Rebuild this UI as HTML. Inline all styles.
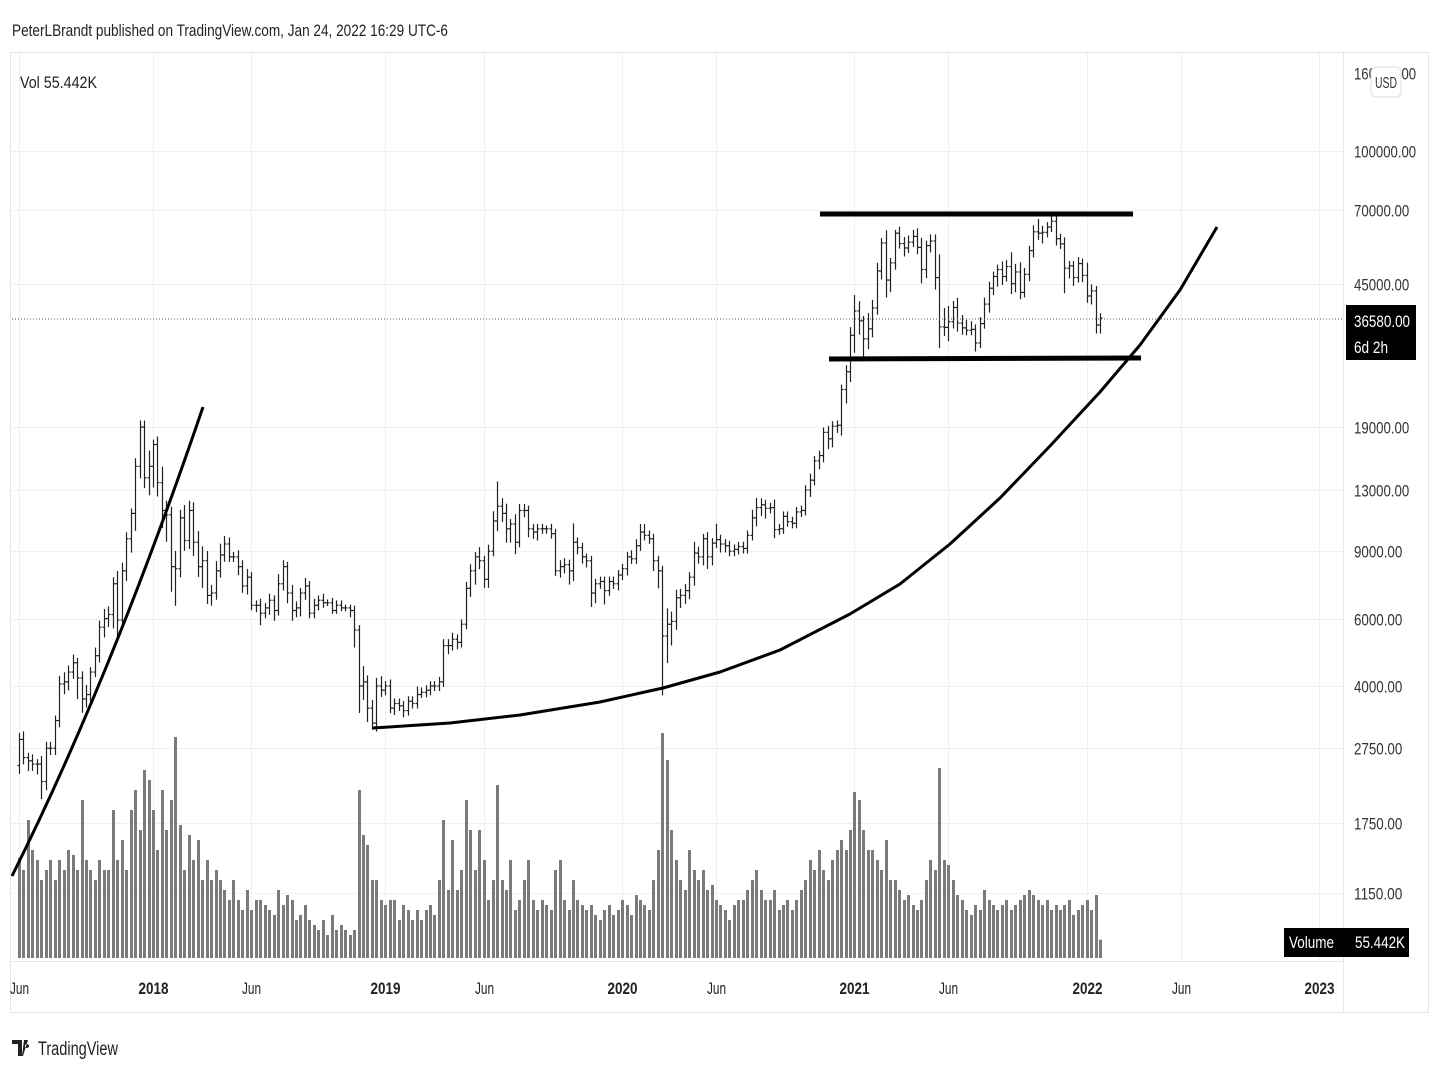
<!DOCTYPE html>
<html><head><meta charset="utf-8">
<style>
body{margin:0;background:#fff;width:1440px;height:1080px;overflow:hidden;font-family:"Liberation Sans",sans-serif;}
svg{position:absolute;left:0;top:0}
</style></head>
<body>
<svg id="chart" width="1440" height="1080">
<text x="12" y="36" font-size="17" fill="#222" textLength="436" lengthAdjust="spacingAndGlyphs">PeterLBrandt published on TradingView.com, Jan 24, 2022 16:29 UTC-6</text>
<rect x="10.5" y="52.5" width="1418" height="960" fill="none" stroke="#e6e6e6"/>
<g id="grid"></g>
<line x1="1343.5" y1="52" x2="1343.5" y2="1012" stroke="#e6e6e6"/>
<line x1="10" y1="961.5" x2="1343" y2="961.5" stroke="#e6e6e6"/>
<g id="vol"></g>
<g id="bars"></g>
<line x1="12" y1="319" x2="1343" y2="319" stroke="#555" stroke-dasharray="1 2"/>
<g id="drawings">
<path d="M12 876 Q110 680 203 407" fill="none" stroke="#000" stroke-width="3"/>
<polyline points="373,728 450,723 520,715 600,702 663,688 720,672 780,650 850,614 900,584 950,544 1000,498 1050,446 1100,392 1140,345 1180,290 1217,227" fill="none" stroke="#000" stroke-width="3" stroke-linejoin="round"/>
<line x1="820" y1="214" x2="1133" y2="214" stroke="#000" stroke-width="5"/>
<line x1="829" y1="359" x2="1141" y2="358" stroke="#000" stroke-width="5"/>
</g>
<g id="yaxis"></g>
<g id="xaxis"></g>
<text x="20" y="88" font-size="17" fill="#222" textLength="77" lengthAdjust="spacingAndGlyphs">Vol  55.442K</text>
<rect x="1371" y="67" width="30" height="30" rx="5" fill="#fff" stroke="#ddd"/>
<text x="1375" y="88" font-size="16" fill="#333" textLength="22" lengthAdjust="spacingAndGlyphs">USD</text>
<rect x="1346" y="305" width="70" height="55" fill="#000"/>
<text x="1354" y="327" font-size="17" fill="#fff" textLength="56" lengthAdjust="spacingAndGlyphs">36580.00</text>
<text x="1354" y="353" font-size="17" fill="#fff" textLength="34" lengthAdjust="spacingAndGlyphs">6d 2h</text>
<rect x="1284" y="928" width="125" height="29" fill="#000"/>
<text x="1289" y="948" font-size="17" fill="#fff" textLength="45" lengthAdjust="spacingAndGlyphs">Volume</text>
<text x="1355" y="948" font-size="17" fill="#fff" textLength="50" lengthAdjust="spacingAndGlyphs">55.442K</text>
<g>
<path d="M12 1040h10v16h-4v-12h-6z M24 1040h4l-5 16h-1z M27 1044a2 2 0 1 0 0.1 0z" fill="#222"/>
<text x="38" y="1055" font-size="19" fill="#222" textLength="80" lengthAdjust="spacingAndGlyphs">TradingView</text>
</g>
</svg>
<script>
const firstOpen = 2480;
const closes = [
2900,2600,2550,2500,2500,2250,2750,2750,3250,4050,4100,4350,4600,4200,3700,3800,4350,4800,5700,6000,6150,7400,5950,8000,9700,11300,15000,19000,14000,15000,
17100,13600,11500,11200,8200,8100,11000,9600,11500,9500,8200,8500,6900,7000,8000,8800,9400,8700,8700,8200,7300,7700,6500,6500,6200,6400,6700,6300,7400,8200,7000,6300,6400,7000,7300,6200,6500,6700,6600,6600,6300,6500,6400,6400,6300,5600,4000,4100,3500,3200,4000,3900,4000,
3500,3600,3550,3450,3650,3600,3800,3850,3900,4000,4000,4100,5100,5100,5300,5200,5800,7200,8000,8700,8500,7600,9000,10800,11800,11300,10300,10600,9500,11500,11500,10300,10100,10300,10300,10300,10000,8000,8200,8300,8000,9500,9200,8700,8500,7000,7400,7500,7100,7500,7400,7800,
8100,8700,8600,9300,10100,9900,9700,8500,8000,5400,5800,5900,6800,6900,7100,7700,8900,8700,9700,8700,9450,9650,9400,9300,9000,9100,9250,9150,9900,11000,11700,11900,11650,11700,10250,10300,11100,10750,10650,11400,11500,13000,13800,15500,16000,18400,17700,19100,19200,23800,26500,33000,
38200,36000,32300,34300,38900,48600,57500,46000,51000,61000,57300,55800,57800,59800,56000,49000,56600,58200,46700,34700,34600,35800,39000,35500,34500,34000,34200,31500,35400,39800,43800,47000,49000,47000,49900,45000,48300,42700,47600,54900,61500,61000,61300,63300,65500,59000,57200,49400,50100,46700,50800,47300,
41800,43100,35100,36580];
const wickUp = [
4,5,3,4,3,5,4,4,3,5,6,4,5,3,4,6,3,5,4,6,5,4,8,5,4,3,5,4,4,10,
3,5,10,6,5,10,5,8,6,5,7,9,6,5,6,7,5,4,3,4,4,5,3,3,4,3,4,3,6,4,3,5,4,3,5,3,4,3,4,2,3,3,3,2,2,3,3,10,4,5,5,6,3,
4,3,3,3,3,3,5,3,3,3,3,3,4,4,4,3,3,4,4,3,6,3,4,6,16,5,6,3,6,4,4,3,3,3,3,2,3,3,4,4,3,12,3,3,2,3,3,3,3,3,3,3,
3,3,4,4,5,5,3,3,3,3,10,6,5,4,4,3,7,4,3,4,3,10,3,3,3,3,3,3,3,5,6,4,3,3,5,3,3,3,3,3,3,3,4,3,3,3,4,3,3,3,4,5,
10,6,3,10,5,5,3,8,3,2,4,4,4,4,5,6,3,4,4,15,12,10,4,6,5,5,5,3,4,4,4,3,3,5,4,9,5,6,4,3,4,8,4,3,5,3,3,4,3,3,4,3,
8,4,3,3];
const wickDn = [
5,4,6,4,6,10,5,4,4,4,6,5,4,12,8,5,4,3,4,6,5,8,10,4,6,8,10,7,6,10,
12,8,10,15,14,20,5,6,5,8,6,12,5,6,4,4,4,3,3,5,4,5,3,4,7,3,4,6,3,4,6,6,4,5,4,3,3,3,3,2,2,2,2,2,4,10,15,8,8,4,5,4,3,
3,4,3,4,3,3,3,2,3,3,3,3,3,5,3,4,3,3,5,8,5,5,5,3,6,5,8,8,7,3,4,5,4,5,3,3,3,3,4,4,8,6,4,4,4,8,6,3,8,3,3,4,
3,4,3,3,3,3,3,6,10,30,15,12,5,6,5,5,5,4,5,7,5,3,5,4,3,3,3,3,3,3,5,5,6,3,5,3,3,3,3,3,3,3,4,3,5,4,6,5,4,6,8,6,
10,8,12,6,5,4,5,10,7,4,3,5,3,3,4,8,5,4,7,12,5,8,4,5,4,3,3,5,3,3,5,4,6,5,3,6,5,4,3,4,4,4,6,3,3,4,3,14,6,5,3,4,
4,5,5,5];
const volumesK = [
300,264,414,324,294,234,264,294,234,294,264,324,309,264,474,294,264,234,294,264,264,444,294,354,264,444,504,384,564,534,
444,324,504,384,474,663,399,264,369,294,354,234,294,234,264,234,204,174,234,174,144,204,144,174,174,159,144,129,204,159,189,174,114,129,159,114,99,84,114,69,129,84,99,84,69,84,504,369,339,234,234,174,159,
174,174,114,159,144,114,144,114,144,159,129,234,414,204,354,204,264,474,384,264,384,294,174,234,519,234,204,294,144,174,234,294,174,144,174,159,144,264,294,174,144,234,174,159,144,159,129,114,144,159,129,144,
174,159,129,189,174,159,144,234,324,675,594,384,294,234,204,324,264,234,264,204,219,174,159,144,114,159,174,174,204,234,264,204,174,174,204,144,159,174,144,174,204,234,294,264,324,264,234,294,324,354,324,384,
498,474,384,324,324,294,264,354,234,234,204,174,189,159,144,174,234,294,264,570,294,279,234,189,174,144,129,159,144,204,174,159,144,159,174,144,159,174,189,204,189,174,159,174,144,159,144,159,174,129,144,159,
174,144,189,55];
const priceTicks = [160000,100000,70000,45000,19000,13000,9000,6000,4000,2750,1750,1150];
const priceTickLabels = ["160000.00","100000.00","70000.00","45000.00","19000.00","13000.00","9000.00","6000.00","4000.00","2750.00","1750.00","1150.00"];
const timeTickWeeks = [0,30,52,82,104,135,156,187,208,239,260,291];
const timeTickLabels = ["Jun","2018","Jun","2019","Jun","2020","Jun","2021","Jun","2022","Jun","2023"];

const NS="http://www.w3.org/2000/svg";
function yP(p){return 151+(5-Math.log10(p))*382.7;}
function xT(i){return 153+(i-30)*4.468;}
function yV(v){return 958-v/3;}
function mk(tag,attrs,parent){const e=document.createElementNS(NS,tag);for(const k in attrs)e.setAttribute(k,attrs[k]);parent.appendChild(e);return e;}

const grid=document.getElementById('grid'),bars=document.getElementById('bars'),vol=document.getElementById('vol'),ya=document.getElementById('yaxis'),xa=document.getElementById('xaxis');
priceTicks.forEach((p,k)=>{
  const y=Math.round(yP(p))+0.5;
  if(k>0){const g=mk('line',{x1:10,x2:1343,y1:y,y2:y,stroke:'#f0f0f0'},grid);
  
  }
  const lbl=priceTickLabels[k];
  const t=mk('text',{x:1354,y:y+6,'font-size':17,fill:'#333',textLength:lbl.length*6.9,lengthAdjust:'spacingAndGlyphs'},ya);
  t.textContent=lbl;
  
  
});
timeTickWeeks.forEach((w,k)=>{
  const x=Math.round(xT(w))+0.5;
  const g=mk('line',{x1:x,x2:x,y1:53,y2:960,stroke:'#f0f0f0'},grid);
  
  
  const lbl=timeTickLabels[k];
  const isYear=/^\d/.test(lbl);
  const wdt=isYear?30:19;
  const t=mk('text',{x:x-wdt/2,y:994,'font-size':17,fill:'#222','font-weight':isYear?'bold':'normal',textLength:wdt,lengthAdjust:'spacingAndGlyphs'},xa);
  t.textContent=lbl;
  
  
});
closes.forEach((c,i)=>{
  const o=i===0?firstOpen:closes[i-1];
  const hi=Math.max(o,c)*(1+wickUp[i]/100), lo=Math.min(o,c)*(1-wickDn[i]/100);
  const x=Math.round(xT(i))+0.5;
  const g=mk('g',{stroke:'#222','stroke-width':1.2},bars);
  
  
  mk('line',{x1:x,x2:x,y1:yP(hi),y2:yP(lo)},g);
  mk('line',{x1:x-2,x2:x,y1:yP(o),y2:yP(o)},g);
  mk('line',{x1:x,x2:x+2,y1:yP(c),y2:yP(c)},g);
  const v=volumesK[i];
  const r=mk('rect',{x:x-1.5,y:yV(v),width:3,height:958-yV(v),fill:'#7a7a7a'},vol);
  
  
});
</script>
</body></html>
